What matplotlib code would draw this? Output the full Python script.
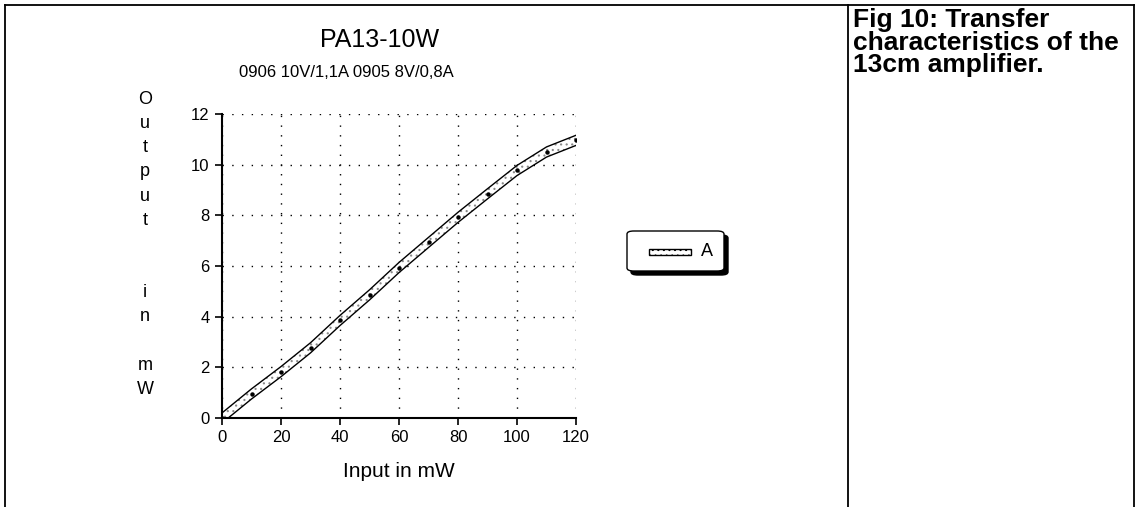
import numpy as np
import matplotlib
matplotlib.use("Agg")
import matplotlib.pyplot as plt
from matplotlib.patches import Rectangle, FancyBboxPatch
from matplotlib.lines import Line2D

plt.rcParams["font.family"] = ["Liberation Sans", "DejaVu Sans"]
plt.rcParams["hatch.color"] = "#8a8a8a"
plt.rcParams["hatch.linewidth"] = 0.8

input_mw = [0, 10, 20, 30, 40, 50, 60, 70, 80, 90, 100, 110, 120]
output_w = [0.0, 0.95, 1.83, 2.77, 3.85, 4.86, 5.94, 6.93, 7.92, 8.85, 9.77, 10.5, 10.96]
band = 0.2

title = "PA13-10W"
subtitle = "0906 10V/1,1A 0905 8V/0,8A"
ylabel_chars = "O\nu\nt\np\nu\nt\n\n\ni\nn\n\nm\nW"
xlabel = "Input in mW"
caption = "Fig 10: Transfer\ncharacteristics of the\n13cm amplifier."
xticks = [0, 20, 40, 60, 80, 100, 120]
yticks = [0, 2, 4, 6, 8, 10, 12]

W, H = 1139, 507
fig = plt.figure(figsize=(W / 100, H / 100), dpi=100)
fig.patch.set_facecolor("white")

# page frame and the separator between chart and caption
frame = dict(transform=fig.transFigure, color="black", lw=1.3)
fig.add_artist(Line2D([5 / W, 1134 / W], [1 - 5 / H, 1 - 5 / H], **frame))
fig.add_artist(Line2D([5 / W, 5 / W], [0, 1 - 5 / H], **frame))
fig.add_artist(Line2D([848 / W, 848 / W], [0, 1 - 5 / H], **frame))
fig.add_artist(Line2D([1134 / W, 1134 / W], [1 - 5 / H, 0], **frame))

ax = fig.add_axes([222 / W, 1 - 418 / H, (576 - 222) / W, (418 - 114) / H])
x = np.array(input_mw)
y = np.array(output_w)
ax.fill_between(x, y - band, y + band, facecolor="white", edgecolor="none",
                hatch="...", zorder=2)
ax.plot(x, y + band, color="black", lw=1.0, zorder=3)
ax.plot(x, y - band, color="black", lw=1.0, zorder=3)
ax.plot(x, y, "o", color="black", ms=2.2, zorder=4)

ax.set_xlim(0, 120)
ax.set_ylim(0, 12)
ax.set_xticks(xticks)
ax.set_yticks(yticks)
ax.tick_params(labelsize=12, length=5, width=1.2, direction="out", pad=4)
ax.grid(True, color="black", ls=(0, (1, 6)), lw=1.0)
for s in ("top", "right"):
    ax.spines[s].set_visible(False)
for s in ("left", "bottom"):
    ax.spines[s].set_linewidth(1.5)
ax.set_xlabel(xlabel, fontsize=15, labelpad=12)

fig.text(380 / W, 1 - 40 / H, title, ha="center", va="center", fontsize=18)
fig.text(346 / W, 1 - 72 / H, subtitle, ha="center", va="center", fontsize=12)
fig.text(145 / W, 1 - 91 / H, ylabel_chars, ha="center", va="top",
         fontsize=13, linespacing=1.55)
fig.text(853 / W, 1 - 8 / H, caption, ha="left", va="top", fontsize=19,
         fontweight="bold", linespacing=0.93)

# legend box with drop shadow
lx0, ly0, lw_, lh = 627 / W, 1 - 271 / H, 97 / W, 40 / H
fig.add_artist(FancyBboxPatch((lx0 + 4 / W, ly0 - 4 / H), lw_, lh,
                              boxstyle="round,pad=0,rounding_size=0.006",
                              transform=fig.transFigure, facecolor="black",
                              edgecolor="black"))
fig.add_artist(FancyBboxPatch((lx0, ly0), lw_, lh,
                              boxstyle="round,pad=0,rounding_size=0.006",
                              transform=fig.transFigure, facecolor="white",
                              edgecolor="black", lw=1))
fig.add_artist(Rectangle((649 / W, 1 - 255 / H), 42 / W, 6 / H,
                         transform=fig.transFigure, facecolor="white",
                         edgecolor="black", lw=1, hatch="..."))
fig.text(701 / W, 1 - 252 / H, "A", ha="left", va="center", fontsize=13)

fig.savefig("out.png", dpi=100)
